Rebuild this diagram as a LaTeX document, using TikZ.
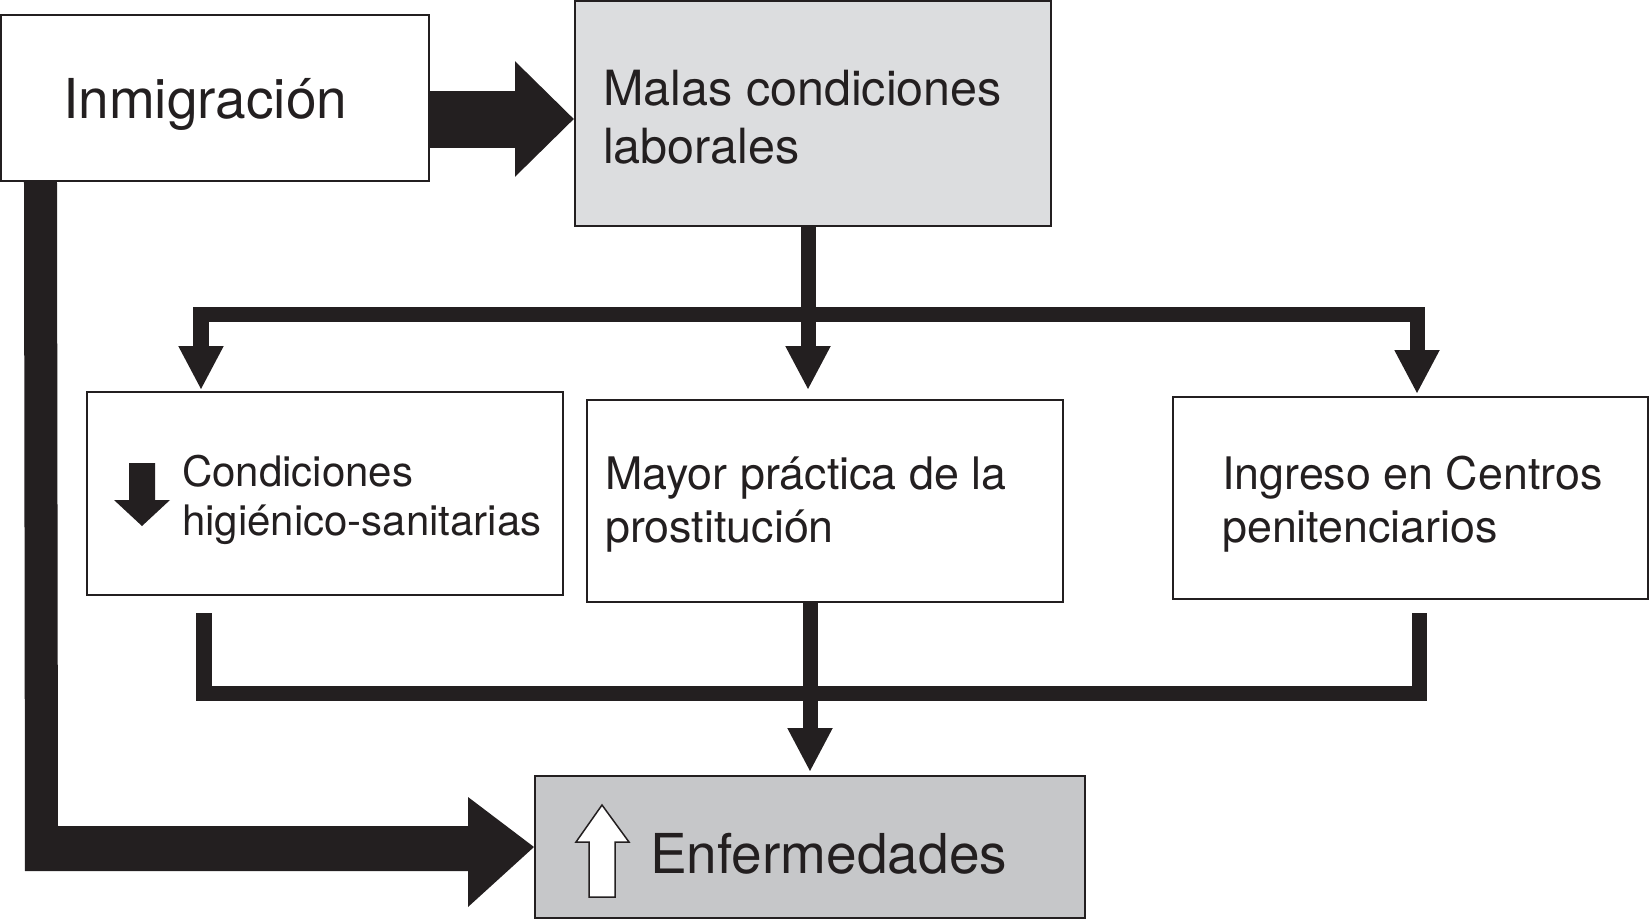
\documentclass[tikz,border=0pt]{standalone}
\usepackage{fontspec}
\setmainfont{TeX Gyre Heros}
\usetikzlibrary{arrows.meta,calc}
\definecolor{ink}{HTML}{231F20}
\definecolor{lgray}{HTML}{DCDDDF}
\definecolor{mgray}{HTML}{C6C7C9}
\tikzset{
  box/.style={draw=ink, line width=2bp, rectangle, inner sep=0pt},
  txt/.style={anchor=base west, inner sep=0pt, text=ink},
  conn/.style={draw=ink, line width=15bp, line join=miter},
  tip/.style={-{Triangle[length=44bp,width=42bp]}},
}
\begin{document}
\begin{tikzpicture}[x=1bp,y=-1bp]
\useasboundingbox (0,0) rectangle (1650,920);
% boxes
\node[box, fill=white, minimum width=428bp, minimum height=166bp] (inm) at (215,98) {};
\node[box, fill=lgray, minimum width=476bp, minimum height=225bp] (malas) at (813,113.5) {};
\node[box, fill=white, minimum width=476bp, minimum height=203bp] (cond) at (325,493.5) {};
\node[box, fill=white, minimum width=476bp, minimum height=202bp] (mayor) at (825,501) {};
\node[box, fill=white, minimum width=475bp, minimum height=202bp] (ing) at (1410.5,498) {};
\node[box, fill=mgray, minimum width=550bp, minimum height=142bp] (enf) at (810,847) {};
% texts
\node[txt, font=\fontsize{55bp}{66bp}\selectfont] (inmT) at (63,118) {Inmigración};
\node[txt, font=\fontsize{48.5bp}{58bp}\selectfont] (malasA) at (603,105) {Malas condiciones};
\node[txt, font=\fontsize{48.5bp}{58bp}\selectfont] (malasB) at (603,163) {laborales};
\node[txt, font=\fontsize{42bp}{50bp}\selectfont] (condA) at (182,486) {Condiciones};
\node[txt, font=\fontsize{42bp}{50bp}\selectfont] (condB) at (182,535) {higiénico-sanitarias};
\node[txt, font=\fontsize{44.8bp}{53bp}\selectfont] (mayorA) at (605,489) {Mayor práctica de la};
\node[txt, font=\fontsize{44.8bp}{53bp}\selectfont] (mayorB) at (605,542) {prostitución};
\node[txt, font=\fontsize{44.8bp}{53bp}\selectfont] (ingA) at (1222,489) {Ingreso en Centros};
\node[txt, font=\fontsize{44.8bp}{53bp}\selectfont] (ingB) at (1222,542) {penitenciarios};
\node[txt, font=\fontsize{55bp}{66bp}\selectfont] (enfT) at (650,873) {Enfermedades};
% small arrows in boxes
\fill[ink] (129,463) -- (155,463) -- (155,500) -- (170,500) -- (142,526) -- (114,500) -- (129,500) -- cycle;
\filldraw[fill=white, draw=ink, line width=1.5bp, line join=miter] (589,897) -- (615,897) -- (615,842) -- (629,842) -- (602,805) -- (576,842) -- (589,842) -- cycle;
% Inmigracion -> Malas
\coordinate (y1) at (0,119);
\draw[ink, line width=57bp, -{Triangle[length=59bp,width=112bp]}] (inm.east |- y1) -- (malas.west |- y1);
% Inmigracion -> Enfermedades (L arrow)
\fill[ink] ($(inm.south west)+(24,0)$) -- ($(inm.south west)+(57,0)$) -- (58,826) -- (468,826) -- (468,797) -- (enf.west) -- (468,907) -- (468,871) -- (25,871) -- cycle;
% Malas -> three boxes
\coordinate (jt) at ($(malas.south)+(-5,87)$);
\draw[conn] ($(malas.south)+(-5,0)$) -- (jt);
\draw[conn, {Triangle[length=44bp,width=42bp]}-{Triangle[length=44bp,width=42bp]}] ($(cond.north west)+(115,-1)$) |- (jt) -| ($(ing.north west)+(245,-2)$);
\draw[conn, tip] (jt) -- ($(mayor.north)+(-17,-9)$);
% three boxes -> Enfermedades
\coordinate (jb) at ($(enf.north)+(0,-82)$);
\draw[conn] ($(cond.south west)+(118,17)$) |- (jb) -| ($(ing.south west)+(247,13)$);
\draw[conn, tip] (mayor.south -| enf.north) -- ($(enf.north)+(0,-3)$);
\end{tikzpicture}
\end{document}
